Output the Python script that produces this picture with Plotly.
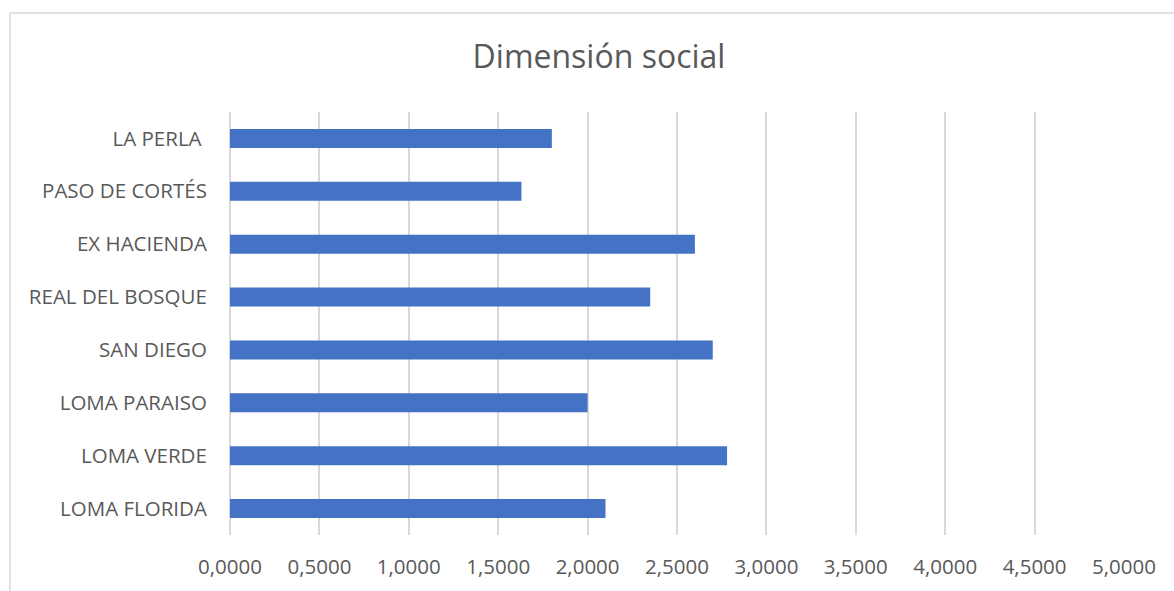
import plotly.graph_objects as go

# Neighbourhoods, listed bottom-to-top as they appear on the y axis
categories = ["LOMA FLORIDA", "LOMA VERDE", "LOMA PARAISO", "SAN DIEGO",
              "REAL DEL BOSQUE", "EX HACIENDA", "PASO DE CORTÉS", "LA PERLA "]
values = [2.10, 2.78, 2.00, 2.70, 2.35, 2.60, 1.63, 1.80]

tick_vals = [0, 0.5, 1, 1.5, 2, 2.5, 3, 3.5, 4, 4.5, 5]
tick_text = ["0,0000", "0,5000", "1,0000", "1,5000", "2,0000", "2,5000",
             "3,0000", "3,5000", "4,0000", "4,5000", "5,0000"]

W, H = 1174, 591
ML, MR, MT, MB = 230, 50, 112, 56
pw, ph = W - ML - MR, H - MT - MB

text_color = "#595959"
grid_color = "#D9D9D9"
font_family = "Open Sans, Liberation Sans, sans-serif"

fig = go.Figure(go.Bar(
    x=values, y=categories, orientation="h",
    marker=dict(color="#4472C4", line=dict(width=0)),
    width=0.36, hoverinfo="x+y",
))

# Outer chart frame (light grey), running off the right/bottom edge
fx0, fy0 = 10, 13
fig.add_shape(type="rect", xref="paper", yref="paper",
              x0=(fx0 - ML) / pw, x1=(W + 10 - ML) / pw,
              y0=-(H + 10 - (H - MB)) / ph, y1=((H - MB) - fy0) / ph,
              line=dict(color=grid_color, width=1.5), fillcolor="rgba(0,0,0,0)",
              layer="below")

fig.update_layout(
    width=W, height=H,
    margin=dict(l=ML, r=MR, t=MT, b=MB, autoexpand=False),
    paper_bgcolor="white", plot_bgcolor="white",
    showlegend=False,
    title=dict(text="Dimensión social", x=(599) / W, xanchor="center",
               y=1 - 57 / H, yanchor="middle",
               font=dict(family=font_family, size=32, color=text_color)),
    font=dict(family=font_family, color=text_color),
    xaxis=dict(range=[0, 5], tickvals=tick_vals, ticktext=tick_text,
               showgrid=True, gridcolor=grid_color, gridwidth=1.5,
               zeroline=True, zerolinecolor=grid_color, zerolinewidth=1.5,
               showline=False, ticks="outside", ticklen=13,
               tickcolor="rgba(0,0,0,0)", automargin=False,
               tickfont=dict(size=20.5, color=text_color), fixedrange=True),
    yaxis=dict(categoryorder="array", categoryarray=categories,
               showgrid=False, showline=False, ticks="outside", ticklen=18,
               tickcolor="rgba(0,0,0,0)", automargin=False,
               tickfont=dict(size=20.5, color=text_color), fixedrange=True),
)

fig.write_html("out.html")
